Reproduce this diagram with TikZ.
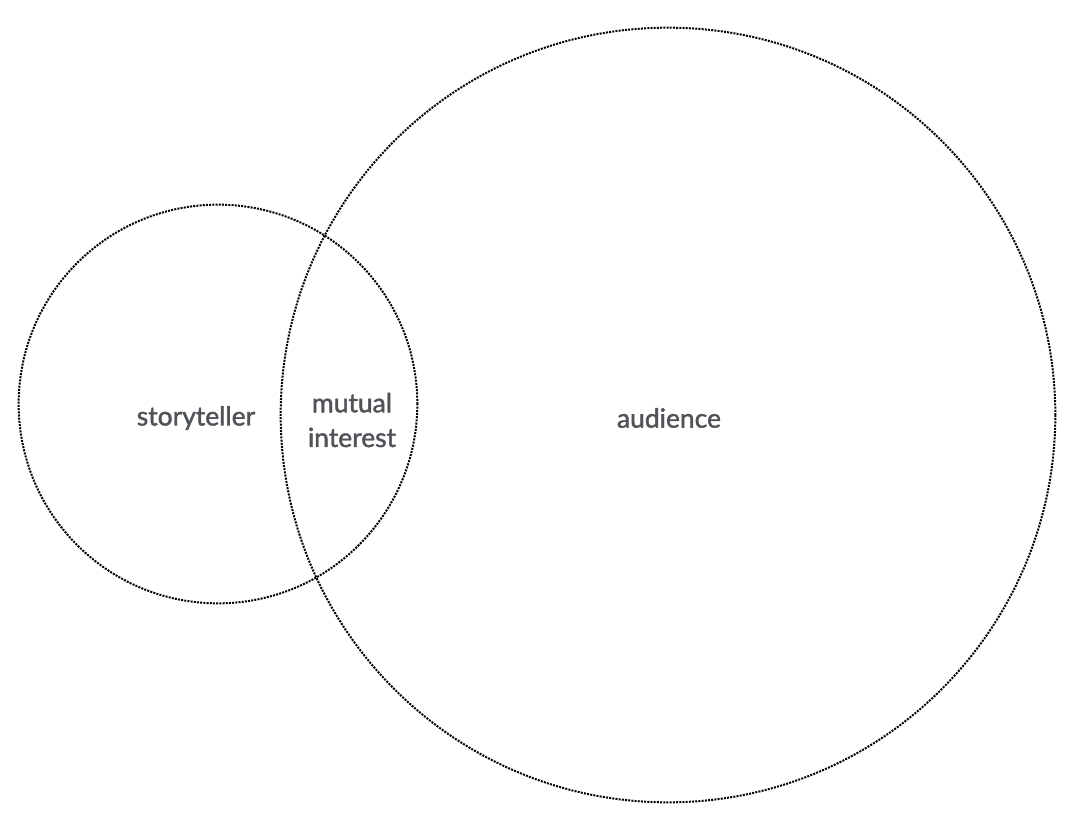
\documentclass[tikz,border=0pt]{standalone}
\usepackage{fontspec}
\setmainfont{Lato}
\newfontfamily\labelfont[FakeBold=1.6]{Lato}
\definecolor{labelgray}{HTML}{505358}

\begin{document}
\begin{tikzpicture}[x=0.75pt, y=-0.75pt,
    ringnode/.style={circle, draw=black, line width=1.5pt, dash pattern=on 1.5pt off 0.9pt, inner sep=0pt},
    textnode/.style={text=labelgray, font=\labelfont\fontsize{19.8}{26}\selectfont, align=center, inner sep=0pt}
    ]
    \useasboundingbox (0,0) rectangle (1074,828);

    % the two circles
    \node [ringnode, minimum size=299pt] (story) at (218, 404) {};
    \node [ringnode, minimum size=581pt] (aud) at (668, 415) {};

    % labels
    \node [textnode] (storylabel) at (196, 418) {storyteller};
    \node [textnode] (mutuallabel) at (352, 420) {mutual\\interest};
    \node [textnode] (audlabel) at (669, 418) {audience};

\end{tikzpicture}
\end{document}
